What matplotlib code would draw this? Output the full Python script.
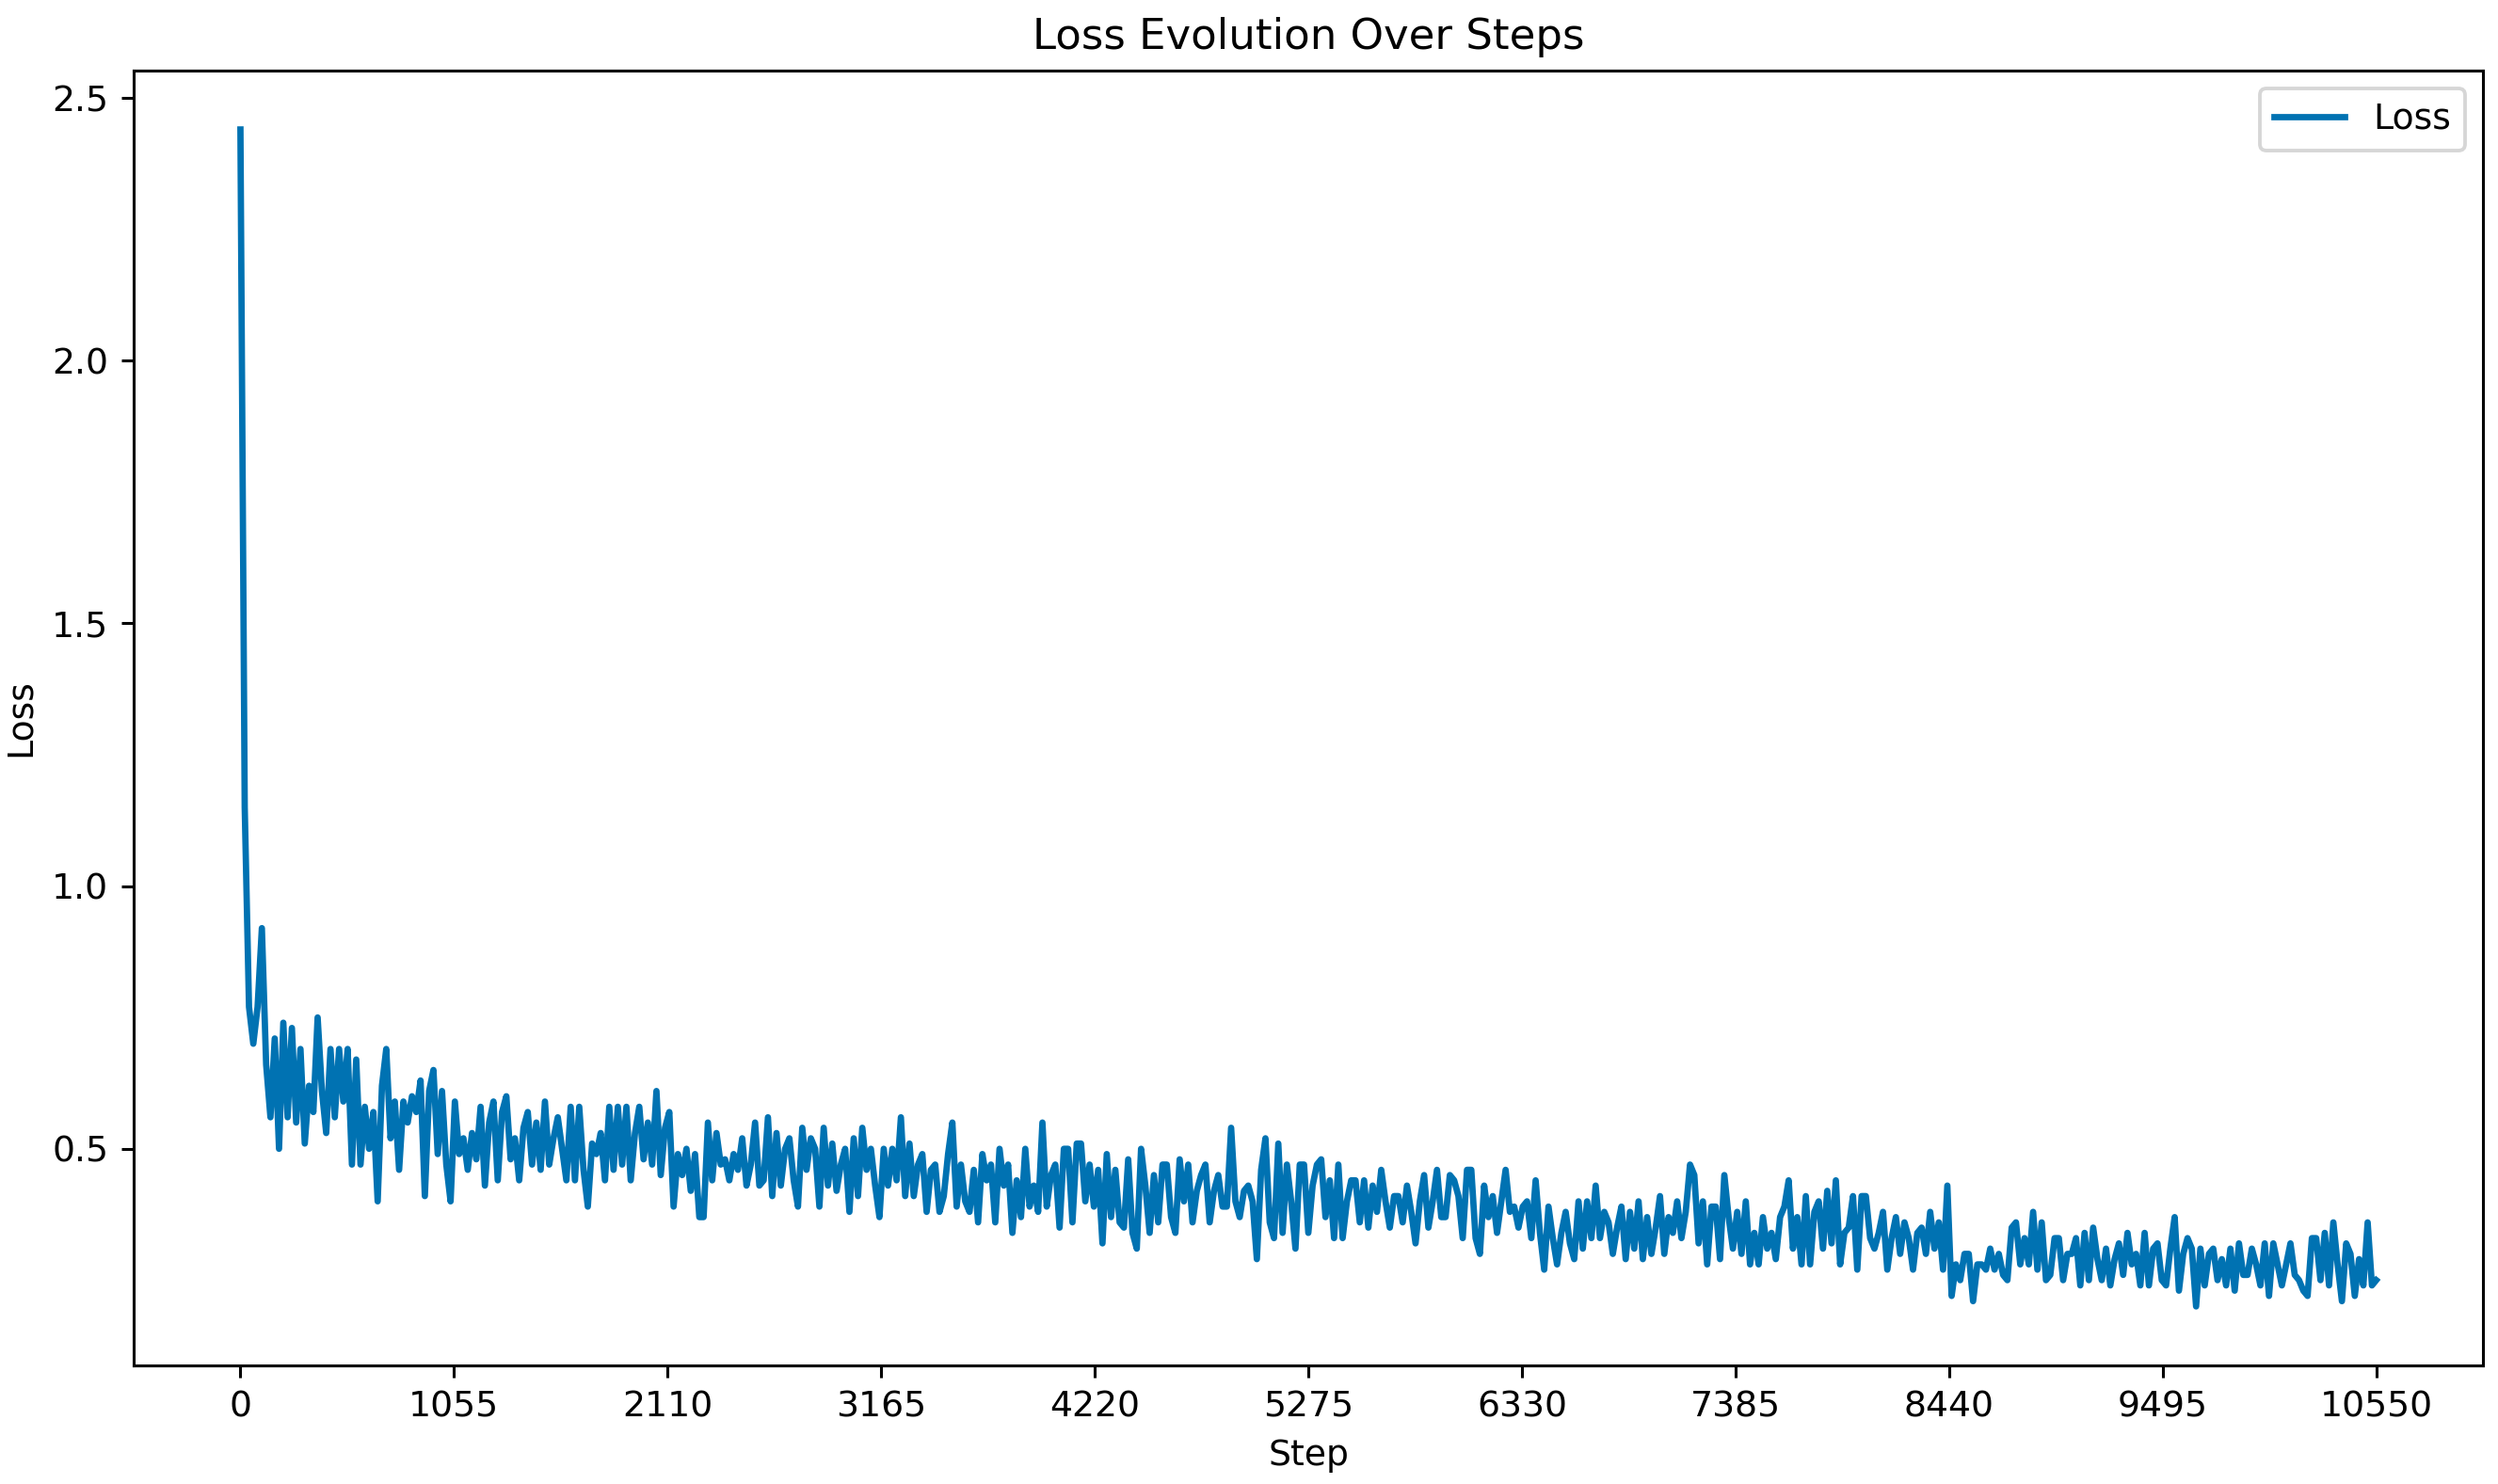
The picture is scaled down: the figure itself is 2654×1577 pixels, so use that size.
import numpy as np
from matplotlib import pyplot as plt

# loss values, segment by segment (steps evenly spaced)
loss_part1 = [
    2.44, 1.15, 0.77, 0.70, 0.77, 0.92, 0.66,
    0.56, 0.71, 0.50, 0.74, 0.56, 0.73, 0.55, 0.69, 0.51, 0.62,
    0.57, 0.75, 0.61, 0.53, 0.69, 0.56, 0.69, 0.59, 0.69, 0.47,
    0.67, 0.47, 0.58, 0.50, 0.57, 0.40, 0.62, 0.69, 0.52, 0.59,
    0.46, 0.59, 0.55, 0.60, 0.57, 0.63, 0.41, 0.61, 0.65, 0.49,
    0.61, 0.47, 0.40, 0.59, 0.49, 0.52, 0.46, 0.53, 0.48, 0.58,
    0.43, 0.55, 0.59, 0.44, 0.57, 0.60, 0.48, 0.52, 0.44, 0.54,
    0.57, 0.47, 0.55, 0.46, 0.59, 0.47, 0.52, 0.56, 0.50, 0.44,
    0.58, 0.44, 0.58, 0.46, 0.39, 0.51, 0.49, 0.53,
]
loss_part2 = [
    0.44, 0.58, 0.46, 0.58, 0.47, 0.58, 0.44, 0.53, 0.58, 0.48,
    0.55, 0.47, 0.61, 0.45, 0.54, 0.57, 0.39, 0.49, 0.45, 0.50,
    0.42, 0.49, 0.37, 0.37, 0.55, 0.44, 0.53, 0.47, 0.48, 0.44,
    0.49, 0.46, 0.52, 0.43, 0.47, 0.55, 0.43, 0.44, 0.56, 0.41,
    0.53, 0.43, 0.50, 0.52, 0.44, 0.39, 0.54, 0.46, 0.52, 0.50,
    0.39, 0.54, 0.43, 0.51, 0.42, 0.47, 0.50, 0.38, 0.52, 0.41,
    0.54, 0.46, 0.50, 0.43, 0.37, 0.50, 0.43, 0.50, 0.44, 0.56,
    0.41, 0.51, 0.41, 0.47, 0.49, 0.38, 0.46, 0.47, 0.38, 0.41,
    0.49, 0.55, 0.39,
]
loss_part3 = [
    0.47, 0.40, 0.38, 0.46, 0.36, 0.49, 0.44, 0.47, 0.36, 0.50,
    0.43, 0.47, 0.34, 0.44, 0.37, 0.50, 0.39, 0.43, 0.38, 0.55,
    0.39, 0.45, 0.47, 0.35, 0.50, 0.50, 0.36, 0.51, 0.51, 0.40,
    0.47, 0.39, 0.46, 0.32, 0.49, 0.37, 0.46, 0.36, 0.35, 0.48,
    0.34, 0.31, 0.50, 0.43, 0.34, 0.45, 0.36, 0.47, 0.47, 0.37,
    0.34, 0.48, 0.40, 0.47, 0.36, 0.42, 0.45, 0.47, 0.36, 0.42,
    0.45, 0.39, 0.39, 0.54, 0.40, 0.37, 0.42, 0.43, 0.40, 0.29,
    0.46, 0.52, 0.36, 0.33, 0.51, 0.34, 0.47, 0.40, 0.31, 0.47,
    0.47, 0.34, 0.43,
]
loss_part4 = [
    0.47, 0.48, 0.37, 0.44, 0.33, 0.47, 0.33, 0.40, 0.44, 0.44,
    0.36, 0.44, 0.35, 0.43, 0.38, 0.46, 0.40, 0.35, 0.41, 0.41,
    0.36, 0.43, 0.38, 0.32, 0.40, 0.45, 0.35, 0.40, 0.46, 0.37,
    0.37, 0.45, 0.44, 0.41, 0.33, 0.46, 0.46, 0.33, 0.30, 0.43,
    0.37, 0.41, 0.34, 0.40, 0.46, 0.38, 0.39, 0.35, 0.39, 0.40,
    0.33, 0.44, 0.34, 0.27, 0.39, 0.33, 0.28, 0.34, 0.38, 0.32,
    0.29, 0.40, 0.31, 0.40, 0.33, 0.43, 0.33, 0.38, 0.36, 0.30,
    0.35, 0.39, 0.29, 0.38, 0.31, 0.40, 0.29, 0.37, 0.30, 0.35,
    0.41, 0.30, 0.37,
]
loss_part5 = [
    0.34, 0.40, 0.33, 0.38, 0.47, 0.45, 0.32, 0.40, 0.28, 0.39,
    0.39, 0.29, 0.45, 0.37, 0.31, 0.38, 0.30, 0.40, 0.28, 0.34,
    0.28, 0.37, 0.31, 0.34, 0.29, 0.37, 0.39, 0.44, 0.31, 0.37,
    0.28, 0.41, 0.28, 0.38, 0.40, 0.31, 0.42, 0.32, 0.44, 0.28,
    0.34, 0.35, 0.41, 0.27, 0.41, 0.41, 0.33, 0.31, 0.34, 0.38,
    0.27, 0.33, 0.37, 0.30, 0.36, 0.33, 0.27, 0.34, 0.35, 0.30,
    0.38, 0.31, 0.36, 0.27, 0.43, 0.22, 0.28, 0.25, 0.30, 0.30,
    0.21, 0.28, 0.28, 0.27, 0.31, 0.27, 0.30, 0.26, 0.25, 0.35,
    0.36, 0.28, 0.33,
]
loss_part6 = [
    0.28, 0.38, 0.27, 0.36, 0.25, 0.26, 0.33, 0.33, 0.25, 0.30,
    0.30, 0.33, 0.24, 0.34, 0.25, 0.35, 0.29, 0.25, 0.31, 0.24,
    0.29, 0.32, 0.26, 0.34, 0.28, 0.30, 0.24, 0.34, 0.24, 0.31,
    0.32, 0.25, 0.24, 0.31, 0.37, 0.23, 0.30, 0.33, 0.31, 0.20,
    0.31, 0.24, 0.30, 0.31, 0.25, 0.29, 0.24, 0.31, 0.23, 0.32,
    0.26, 0.26, 0.31, 0.28, 0.24, 0.32, 0.22, 0.32, 0.28, 0.24,
    0.28, 0.32, 0.26, 0.25, 0.23, 0.22, 0.33, 0.33, 0.25, 0.34,
    0.24, 0.36, 0.28, 0.21, 0.32, 0.30, 0.22, 0.29, 0.24, 0.36,
    0.24, 0.25,
]

last_step = 10550
tick_labels = ["0", "1055", "2110", "3165", "4220", "5275",
               "6330", "7385", "8440", "9495", "10550"]


def main():
    """Main function"""
    loss = (loss_part1 + loss_part2 + loss_part3
            + loss_part4 + loss_part5 + loss_part6)
    steps = np.linspace(0, last_step, len(loss))
    tick_locations = np.linspace(0, last_step, len(tick_labels))

    plt.rcParams["font.size"] = 9.8
    plt.rcParams["axes.titlesize"] = 11.7

    dpi = 277
    plt.figure(figsize=(2654 / dpi, 1577 / dpi), dpi=dpi)
    plt.plot(steps, loss, color="#0072B2", linewidth=1.75, label="Loss")
    plt.xticks(tick_locations, tick_labels)
    plt.xlabel("Step")
    plt.ylabel("Loss")
    plt.title("Loss Evolution Over Steps")
    plt.legend(loc="upper right")
    plt.subplots_adjust(left=0.0535, right=0.994, bottom=0.080, top=0.9524)
    plt.savefig("out.png", dpi=dpi)


if __name__ == "__main__":
    main()
